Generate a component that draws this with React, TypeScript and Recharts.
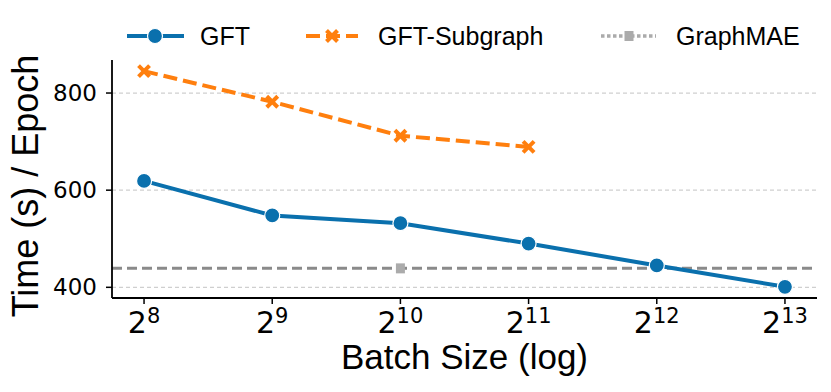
import { LineChart, Line, XAxis, YAxis, CartesianGrid, ReferenceLine, Label } from 'recharts';

const batchLog2 = [8, 9, 10, 11, 12, 13];
const gftTime = [619, 548, 532, 490, 445, 401];
const subgraphTime = [845, 782, 712, 689, null, null];
const graphMaeTime = [null, null, 439, null, null, null];
const graphMaeBaseline = 439;
const yTicks = [400, 600, 800];

const BLUE = '#0a70ad';
const ORANGE = '#ff7f0e';
const LIGHT_GRAY = '#ababab';
const DARK_GRAY = '#8a8a8a';
const SANS = '"Liberation Sans", Arial, sans-serif';
const TICK_FONT = '"DejaVu Sans", sans-serif';

const data = batchLog2.map((x, i) => ({
  x,
  gft: gftTime[i],
  sub: subgraphTime[i],
  mae: graphMaeTime[i],
}));

function Cross({ cx, cy, size = 5.5 }: { cx: number; cy: number; size?: number }) {
  return (
    <g stroke={ORANGE} strokeWidth={4} strokeLinecap="butt">
      <line x1={cx - size} y1={cy - size} x2={cx + size} y2={cy + size} />
      <line x1={cx - size} y1={cy + size} x2={cx + size} y2={cy - size} />
    </g>
  );
}

function SubgraphDot(props: any) {
  const { cx, cy, index } = props;
  if (cx == null || cy == null || props.value == null) return <g key={index} />;
  return <Cross key={index} cx={cx} cy={cy} />;
}

function MaeDot(props: any) {
  const { cx, cy, index } = props;
  if (cx == null || cy == null || props.value == null) return <g key={index} />;
  return <rect key={index} x={cx - 4.5} y={cy - 5} width={9} height={10} fill={LIGHT_GRAY} />;
}

function PowerTick(props: any) {
  const { x, y, payload } = props;
  return (
    <text x={x} y={y + 27} textAnchor="middle" fill="#000" fontFamily={TICK_FONT}>
      <tspan fontSize={30}>2</tspan>
      <tspan fontSize={21} dy={-10}>{payload.value}</tspan>
    </text>
  );
}

function LegendRow() {
  const cy = 36;
  return (
    <svg width={831} height={60} style={{ position: 'absolute', left: 0, top: 0 }}>
      <line x1={127} y1={cy} x2={184} y2={cy} stroke={BLUE} strokeWidth={4} />
      <circle cx={155} cy={cy} r={7.5} fill={BLUE} stroke="#fff" strokeWidth={1.2} />
      <text x={200} y={cy + 9} fontSize={25} fontFamily={SANS}>GFT</text>

      <line x1={306} y1={cy} x2={358} y2={cy} stroke={ORANGE} strokeWidth={4} strokeDasharray="14 6" />
      <Cross cx={332} cy={cy} />
      <text x={378} y={cy + 9} fontSize={25} fontFamily={SANS}>GFT-Subgraph</text>

      <line x1={601} y1={cy} x2={656} y2={cy} stroke={LIGHT_GRAY} strokeWidth={3.5} strokeDasharray="3.5 2.5" />
      <rect x={624.5} y={cy - 5} width={9} height={10} fill={LIGHT_GRAY} />
      <text x={676} y={cy + 9} fontSize={25} fontFamily={SANS}>GraphMAE</text>
    </svg>
  );
}

export default function App() {
  return (
    <div style={{ position: 'absolute', left: 0, top: 0, width: 831, height: 392, background: '#fff' }}>
      <LineChart width={831} height={392} data={data} margin={{ top: 60, right: 14, bottom: 0, left: 0 }}>
        <CartesianGrid
          vertical={false}
          horizontalValues={yTicks}
          stroke="#cfcfcf"
          strokeWidth={1.3}
          strokeDasharray="4 3"
        />
        <XAxis
          type="number"
          dataKey="x"
          domain={[7.75, 13.25]}
          ticks={batchLog2}
          height={94}
          tick={<PowerTick />}
          tickSize={6}
          tickLine={{ stroke: '#000', strokeWidth: 1.5 }}
          axisLine={{ stroke: '#000', strokeWidth: 1.8 }}
          allowDataOverflow
        >
          <Label
            value="Batch Size (log)"
            position="insideBottom"
            offset={23}
            style={{ fontSize: 35, fontFamily: SANS, fill: '#000' }}
          />
        </XAxis>
        <YAxis
          type="number"
          domain={[378, 868]}
          ticks={yTicks}
          width={112}
          tickSize={6}
          tickMargin={9}
          tick={{ fontSize: 23, fontFamily: TICK_FONT, fill: '#000' }}
          tickLine={{ stroke: '#000', strokeWidth: 1.5 }}
          axisLine={{ stroke: '#000', strokeWidth: 1.8 }}
          allowDataOverflow
        >
          <Label
            content={() => (
              <text
                x={38}
                y={186}
                transform="rotate(-90 38 186)"
                textAnchor="middle"
                fontSize={36}
                fontFamily={SANS}
                fill="#000"
              >
                Time (s) / Epoch
              </text>
            )}
          />
        </YAxis>
        <ReferenceLine y={graphMaeBaseline} stroke={DARK_GRAY} strokeWidth={3} strokeDasharray="10 5" />
        <Line
          dataKey="sub"
          stroke={ORANGE}
          strokeWidth={4}
          strokeDasharray="14 6"
          dot={SubgraphDot}
          activeDot={false}
          connectNulls={false}
          isAnimationActive={false}
        />
        <Line
          dataKey="gft"
          stroke={BLUE}
          strokeWidth={4}
          dot={{ r: 7.5, fill: BLUE, stroke: '#fff', strokeWidth: 1.2 }}
          activeDot={false}
          isAnimationActive={false}
        />
        <Line
          dataKey="mae"
          stroke={LIGHT_GRAY}
          strokeWidth={3}
          dot={MaeDot}
          activeDot={false}
          isAnimationActive={false}
        />
      </LineChart>
      <LegendRow />
    </div>
  );
}
